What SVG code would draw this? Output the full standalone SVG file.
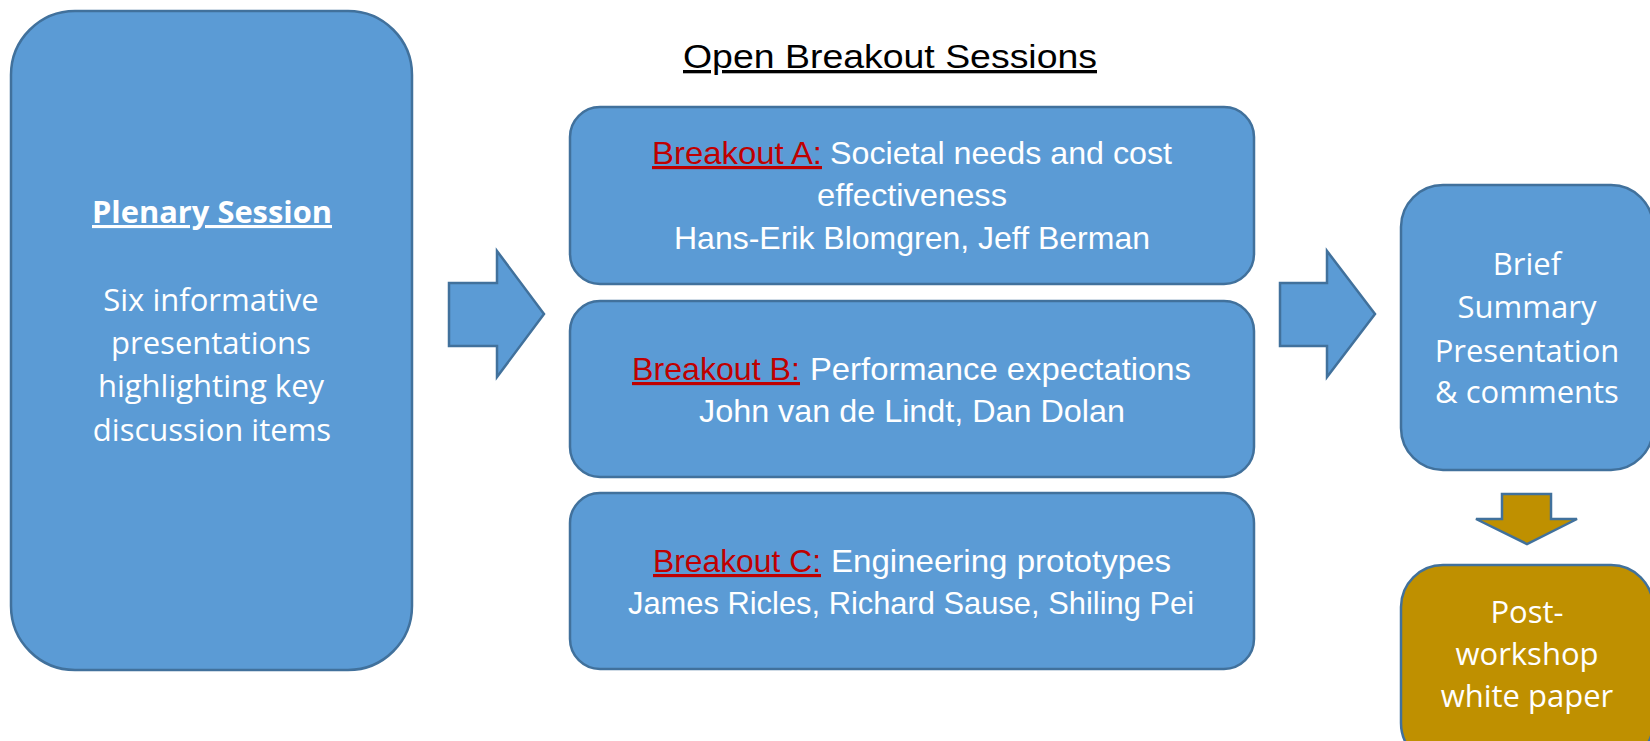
<svg xmlns="http://www.w3.org/2000/svg" width="1650" height="741" viewBox="0 0 1650 741">
<style>
.box{fill:#5B9BD5;stroke:#41719C;stroke-width:2.5}
.gold{fill:#BF9000;stroke:#41719C;stroke-width:2.5}
.arrow{fill:#5B9BD5;stroke:#41719C;stroke-width:2.5;stroke-linejoin:miter}
.garrow{fill:#BF9000;stroke:#41719C;stroke-width:2.5}
.seg{font-family:"Open Sans","Liberation Sans",sans-serif;font-size:31px;fill:#FFFFFF;text-anchor:middle}
.cal{font-family:"Liberation Sans",Arial,sans-serif;font-size:31.5px;fill:#FFFFFF}
.red{fill:#C00000;text-decoration:underline}
.title{font-family:"Liberation Sans",Arial,sans-serif;font-size:33px;fill:#000000;text-decoration:underline}
</style>
<rect x="0" y="0" width="1650" height="741" fill="#FFFFFF"/>
<text class="title" x="683" y="68" textLength="414" lengthAdjust="spacingAndGlyphs">Open Breakout Sessions</text>
<g id="connectors">
<polygon class="arrow" points="449,283 497,283 497,251 544,314 497,377 497,346 449,346"/>
<polygon class="arrow" points="1280,283 1327,283 1327,251 1375,314 1327,377 1327,346 1280,346"/>
<polygon class="garrow" points="1502,494 1551,494 1551,519 1577,519 1527,544 1476,519 1502,519"/>
</g>
<g id="plenary">
<rect class="box" x="11" y="11" width="401" height="659" rx="64" ry="64"/>
<text class="seg" x="212" y="223" font-weight="bold" text-decoration="underline" textLength="240" lengthAdjust="spacingAndGlyphs">Plenary Session</text>
<text class="seg" x="211" y="311">Six informative</text>
<text class="seg" x="211" y="354">presentations</text>
<text class="seg" x="211" y="397">highlighting key</text>
<text class="seg" x="212" y="441">discussion items</text>
</g>
<g id="breakoutA">
<rect class="box" x="570" y="107" width="684" height="177" rx="30" ry="30"/>
<text class="cal red" x="652" y="164" textLength="170" lengthAdjust="spacingAndGlyphs">Breakout A:</text>
<text class="cal" x="830" y="164" textLength="342" lengthAdjust="spacingAndGlyphs">Societal needs and cost</text>
<text class="cal" x="817" y="206" textLength="190" lengthAdjust="spacingAndGlyphs">effectiveness</text>
<text class="cal" x="674" y="249" textLength="476" lengthAdjust="spacingAndGlyphs">Hans-Erik Blomgren, Jeff Berman</text>
</g>
<g id="breakoutB">
<rect class="box" x="570" y="301" width="684" height="176" rx="30" ry="30"/>
<text class="cal red" x="632" y="380" textLength="168" lengthAdjust="spacingAndGlyphs">Breakout B:</text>
<text class="cal" x="810" y="380" textLength="381" lengthAdjust="spacingAndGlyphs">Performance expectations</text>
<text class="cal" x="699" y="422" textLength="426" lengthAdjust="spacingAndGlyphs">John van de Lindt, Dan Dolan</text>
</g>
<g id="breakoutC">
<rect class="box" x="570" y="493" width="684" height="176" rx="30" ry="30"/>
<text class="cal red" x="653" y="572" textLength="168" lengthAdjust="spacingAndGlyphs">Breakout C:</text>
<text class="cal" x="831" y="572" textLength="340" lengthAdjust="spacingAndGlyphs">Engineering prototypes</text>
<text class="cal" x="628" y="614" textLength="566" lengthAdjust="spacingAndGlyphs">James Ricles, Richard Sause, Shiling Pei</text>
</g>
<g id="summary">
<rect class="box" x="1401" y="185" width="252" height="285" rx="42" ry="42"/>
<text class="seg" x="1527" y="275">Brief</text>
<text class="seg" x="1527" y="318">Summary</text>
<text class="seg" x="1527" y="362">Presentation</text>
<text class="seg" x="1527" y="403">&amp; comments</text>
</g>
<g id="whitepaper">
<rect class="gold" x="1401" y="565" width="252" height="200" rx="42" ry="42"/>
<text class="seg" x="1527" y="623">Post-</text>
<text class="seg" x="1527" y="665">workshop</text>
<text class="seg" x="1527" y="707">white paper</text>
</g>
</svg>
